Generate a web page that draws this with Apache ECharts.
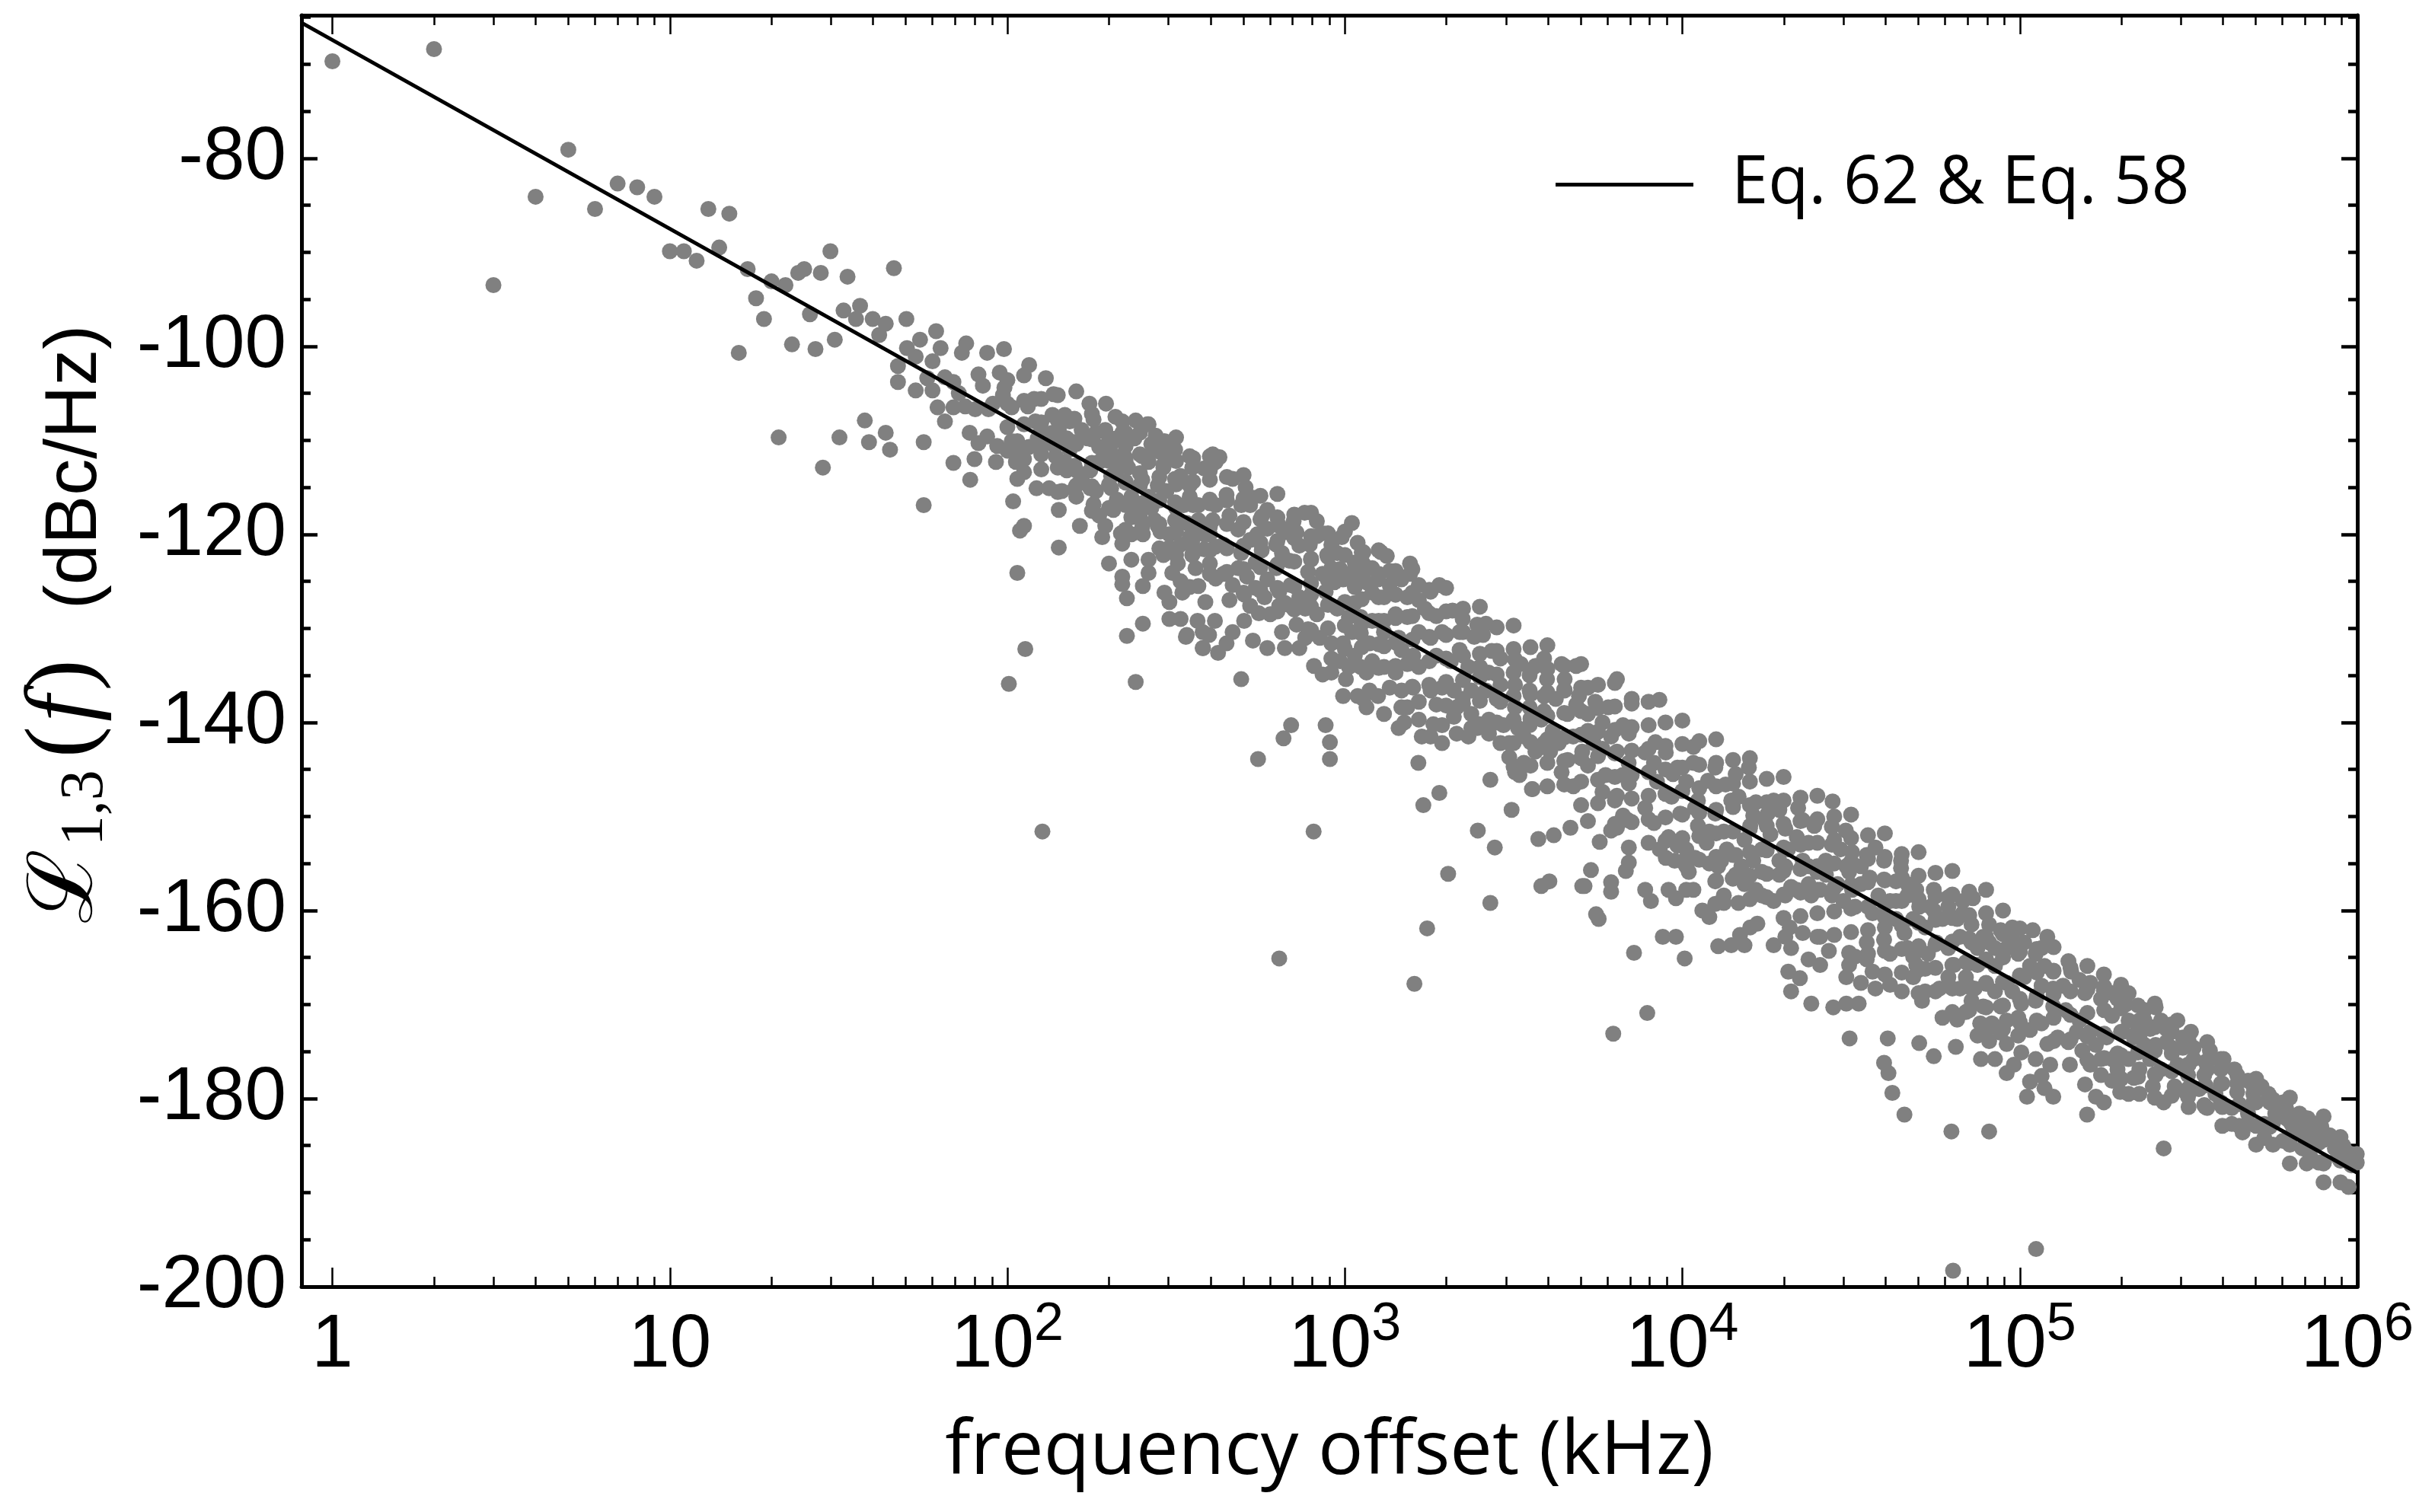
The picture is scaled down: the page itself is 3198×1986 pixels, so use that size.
<!DOCTYPE html>
<html>
<head>
<meta charset="utf-8">
<title>Phase noise L13(f)</title>
<script src="https://cdn.jsdelivr.net/npm/echarts@6.0.0/dist/echarts.min.js"></script>
<style>
  html, body { margin: 0; padding: 0; background: #fff; }
  #chart { width: 3198px; height: 1986px; }
</style>
</head>
<body>
<div id="chart"></div>
<script>
// axis ranges
var xMin = 0.81, xMax = 1e6;
var yMin = -200, yMax = -64.8;
var yStep = 20;
var decadeExp = [0, 1, 2, 3, 4, 5, 6];

var lineName = 'Eq. 62 & Eq. 58';
// straight line in log-x, two ends
var fitLine = [[0.81, -65.6], [1e6, -187.9]];

// [frequency offset kHz, dBc/Hz]
var pointsLow = [
  [1.0,-69.7],[2,-68.4],[3,-93.5],[4,-84.1],[5,-79.1],[6,-85.4],[7,-82.7],[8,-83.1],[9,-84.1],[10,-89.9],
  [11,-89.9],[12,-90.9],[13,-85.4],[14,-89.5],[15,-85.9],[16,-100.7],[17,-91.8],[18,-94.9],[19,-97.1],[20,-93.1],
  [21,-109.7],[22,-93.5],[23,-99.8],[24,-92.2],[25,-91.8],[26,-96.6],[27,-100.3],[28,-92.2],[28.4,-112.9]
];

var pointsBand100 = [
  [29.9,-89.9],[33.6,-92.6],[46.1,-91.7],[32.7,-96.2],[36.6,-95.7],[35.6,-97.1],[39.9,-97.1],[43.6,-97.6],[41.7,-98.8],[50.2,-97.1],
  [30.8,-99.3],[31.8,-109.7],[37.8,-107.9],[38.9,-110.2],[43.6,-109.2],[44.9,-111.0],[56.5,-110.2],[56.5,-116.9],[55.1,-99.3],[61.5,-98.4],
  [63.4,-100.2],[50.4,-100.2],[53.5,-101.1],[47.4,-102.1],[47.4,-103.8],[53.5,-104.7],[60.0,-101.6],[57.9,-103.4],[60,-104.7],[65.3,-103.3],
  [69.2,-103.8],[73.3,-100.7],[75.5,-99.7],[82.1,-103.0],[84.6,-104.2],[87.1,-100.7],[97.7,-100.3],[94.9,-102.8],[98.0,-104.4],[97.0,-105.2],
  [116,-102.0],[130,-103.4],[137,-105.1],[160,-104.8],[175,-106.1],[196,-106.1],[120,-105.6],[115,-106.4],[103,-106.5],[71.8,-105.0],
  [62.1,-106.5],[65.3,-108.0],[69.2,-106.5],[75.0,-106.4],[80.3,-106.7],[87.9,-106.7],[90.6,-106.1],[77.3,-109.2],[82.1,-110.3],[87.1,-109.6],
  [93.3,-110.6],[92.5,-112.3],[100,-111.0],[107,-110.1],[106,-112.3],[116,-110.7],[126,-111.5],[121,-108.0],[126,-108.9],[136,-107.3],
  [142,-108.9],[148,-107.3],[153,-108.0],[150,-109.8],[160,-110.4],[166,-108.9],[180,-107.8],[183,-109.2],[195,-108.9],[209,-107.5],
  [219,-108.0],[240,-107.9],[260,-108.3],[219,-109.2],[211,-109.8],[187,-110.7],[199,-111.4],[209,-111.7],[224,-110.6],[247,-111.5],
  [275,-109.5],[292,-110.1],[267,-110.4],[296,-111.4],[290,-112.6],[262,-112.3],[247,-113.5],[228,-112.9],[211,-113.2],[187,-112.3],
  [176,-113.2],[160,-113.2],[150,-113.2],[148,-112.3],[139,-111.7],[136,-110.4],[103,-110.1],[107,-111.5],[112,-112.0],[69.2,-112.4],
  [79.9,-112.0],[77.6,-114.2],[107,-114.1],[104,-116.5],[122,-115.1],[133,-115.1],[145,-115.4],[160,-116.0],[160,-114.8],[176,-115.1],
  [180,-116.8],[203,-115.1],[224,-114.5],[233,-116.0],[262,-116.0],[279,-114.8],[267,-117.2],[206,-117.4],[187,-118.0],[233,-118.2],
  [247,-118.2],[142,-117.4],[164,-119.1],[112,-119.1],[109,-119.6],[195,-119.1],[191,-120.3],[217,-119.9],[233,-120.0],[252,-120.0],
  [279,-119.1],[284,-119.7],[142,-121.4],[219,-121.0],[200,-123.1],[233,-122.7],[262,-122.7],[219,-124.5],[219,-125.3],[226,-126.8],
  [252,-125.5],[262,-124.1],[107,-124.1],[113,-132.2],[101,-135.9],[240,-135.7],[252,-129.5],[226,-130.8],[302,-129.0],[326,-129.0],
  [292,-126.2],[308,-124.1],[326,-125.0],[330,-126.2],[340,-130.7],[361,-123.6],[368,-125.5],[379,-130.4],[379,-132.1],[386,-127.2],
  [302,-121.4],[326,-121.1],[353,-120.7],[383,-121.6],[414,-121.3],[302,-120.0],[340,-118.8],[383,-120.0],[406,-118.5],[314,-116.6],
  [347,-116.0],[368,-116.9],[398,-116.3],[347,-114.8],[314,-114.1],[290,-112.9],[353,-112.9],[398,-113.2],[406,-111.5],[326,-113.8],
  [279,-110.1],[262,-108.3],
  [123,-109.8],[136,-109.2],[153,-111.0],[173,-109.8],[203,-110.4],[238,-109.8],[247,-109.2],[273,-111.0],[314,-111.0],[347,-111.7],
  [383,-113.0],[414,-112.3],[224,-112.3],[203,-113.8],[166,-114.1],[183,-115.4],[247,-114.8],[296,-115.4],[333,-116.9],[368,-118.5],
  [414,-116.9],[398,-120.0],[347,-120.3],[314,-118.5],[273,-118.5],[211,-116.3],[238,-117.2],[290,-122.2],[320,-123.1],[353,-122.2],
  [398,-123.1],[414,-124.7],[347,-125.6],[302,-127.2],
  [127,-151.6],[639,-165.1],[1607,-167.8],[1753,-161.9]
];

var pointsBand1k = [
  [425,-111.8],[465,-114.1],[508,-115.0],[493,-116.9],[524,-116.9],[567,-118.1],[639,-119.1],[589,-119.4],[550,-120.0],[626,-121.1],
  [705,-118.6],[760,-117.7],[826,-118.6],[859,-119.9],[733,-121.2],[787,-121.1],[794,-122.6],[886,-122.2],[912,-121.1],[979,-120.3],
  [1049,-118.8],[1091,-120.9],[1135,-121.9],[1279,-121.9],[1331,-122.3],[1560,-123.1],[1560,-124.2],[1905,-125.4],[1132,-123.1],[912,-123.6],
  [968,-123.7],[1028,-124.2],[778,-124.0],[859,-124.2],[684,-122.8],[651,-122.0],[567,-121.7],[524,-120.6],[437,-124.2],[465,-125.4],
  [513,-124.5],[483,-123.6],[544,-125.7],[589,-124.8],[639,-126.1],[691,-125.4],[733,-126.7],[794,-126.4],[877,-126.1],[931,-125.1],
  [988,-124.8],[1070,-125.6],[1159,-125.1],[1254,-124.8],[1358,-125.4],[1205,-126.2],[1070,-127.3],[1306,-126.7],[1413,-126.4],[1531,-126.7],
  [1656,-127.0],[1795,-126.1],[1726,-127.9],[1867,-128.7],[2084,-128.1],[2234,-129.0],[2467,-129.6],[2618,-129.5],[1941,-130.4],[2188,-130.4],
  [2417,-130.9],[2566,-130.7],[2723,-132.4],[2891,-133.2],[3192,-133.3],[3320,-133.8],[3893,-133.2],[3670,-134.0],[4387,-133.8],[4845,-134.0],
  [4479,-135.4],[5250,-136.3],[6030,-138.4],[6400,-135.4],[7080,-137.5],[5520,-137.8],[4940,-137.2],
  [524,-127.6],[556,-128.4],[601,-128.5],[639,-127.6],[691,-127.6],[719,-129.6],[778,-130.1],[651,-130.4],[589,-132.1],[534,-131.3],
  [446,-131.6],[380,-132.1],[338,-130.9],[421,-132.6],[664,-132.1],[733,-132.1],[843,-131.0],[912,-131.6],[988,-131.6],[1049,-130.4],
  [1115,-130.5],[1183,-131.6],[1306,-131.9],[1472,-132.3],[1593,-132.9],[810,-134.0],[859,-134.9],[912,-133.2],[968,-133.5],[1028,-134.1],
  [1007,-135.4],[1159,-134.7],[1205,-133.5],[1306,-134.1],[1413,-134.7],[1531,-133.8],[1656,-134.1],[1183,-136.6],[1254,-137.2],[1358,-136.3],
  [1472,-136.6],[1593,-136.3],[1795,-136.6],[1941,-136.3],[2103,-136.6],[2234,-137.5],[2370,-136.6],[2618,-136.6],[2891,-136.0],[3192,-136.0],
  [3527,-136.6],[3893,-137.2],[4217,-137.5],[4479,-136.6],[4845,-138.1],[5250,-139.1],[5800,-140.0],[6670,-140.3],[6940,-141.2],[6150,-141.5],
  [5460,-142.2],[5050,-143.1],[4571,-144.0],[4754,-146.8],[4387,-145.3],[4055,-143.1],[3670,-143.1],[3390,-144.3],[3192,-145.3],[3069,-143.7],
  [3597,-147.1],[3290,-145.6],[2891,-142.2],[2672,-141.2],[2467,-140.6],[2323,-141.5],[2144,-141.2],[1941,-142.2],[1795,-141.5],[1690,-141.5],
  [1941,-140.3],[2103,-139.4],[1829,-140.2],[1656,-139.7],[1531,-138.4],[1443,-140.6],[1500,-140.0],[1159,-138.4],[1135,-137.5],[1091,-137.2],
  [988,-137.2],[2370,-139.1],[2672,-139.7],[2951,-140.3],[3258,-140.6],[3527,-140.3],[3820,-139.7],[4130,-140.9],[4303,-142.2],[5920,-145.6],
  [5800,-147.4],[6400,-147.8],[6940,-146.5],[6670,-149.9],[6150,-151.5],[5690,-152.7],[5250,-150.5],[4660,-151.2],[6400,-151.2],[6940,-153.3],
  [6940,-154.9],[6800,-155.8],[5360,-155.7],[5050,-157.4],[6150,-157.0],[6150,-158.0],
  [493,-135.4],[693,-140.3],[658,-141.7],[877,-140.3],[903,-142.1],[903,-143.9],[553,-143.9],[808,-151.6],[1651,-144.3],[1905,-147.5],
  [1708,-148.8],[2698,-146.1],[3119,-149.3],[3583,-147.1],[2477,-151.5],[2781,-153.3],[3743,-152.4],[4159,-152.0],[2023,-156.1],[3820,-157.4],
  [4036,-156.9],[2698,-159.2],[5130,-157.4],[5550,-160.4],
  [446,-115.8],[534,-116.1],[455,-118.0],[589,-117.4],[664,-119.8],[483,-119.5],[437,-121.1],[493,-122.0],[544,-123.0],[626,-123.6],
  [719,-119.8],[826,-120.2],[949,-122.0],[1070,-123.0],[1205,-123.6],[1358,-123.9],[1470,-124.8],[1656,-125.4],[455,-127.0],[503,-126.4],
  [578,-126.7],[664,-127.3],[763,-127.9],[826,-128.5],[949,-127.9],[1028,-128.8],[1114,-128.8],[1205,-129.2],[1306,-129.2],[1413,-128.5],
  [1531,-128.8],[1656,-130.4],[1795,-131.0],[1306,-130.4],[1443,-131.0],[1867,-132.9],[2061,-133.5],[2188,-132.3],[2322,-134.1],[2514,-134.1],
  [2667,-134.7],[3527,-135.0],[3972,-135.4],[2891,-137.8],[3192,-138.4],[3527,-138.4],[3893,-138.8],[4564,-139.1],[5250,-140.9],[4747,-141.5],
  [3893,-142.2],[3388,-141.5],[3069,-142.2],[5800,-142.8],[6400,-143.1],[6930,-144.3],[6660,-145.6],[5250,-144.6],[2370,-140.6],[2144,-138.4],
  [1867,-138.1],[1656,-137.8],[1470,-138.4],[1306,-139.1],[1070,-132.9],[1114,-134.1],[912,-134.7],[763,-131.0],[503,-129.2],[412,-129.2],
  [366,-129.2],[465,-130.4],[396,-130.7]
];

var pointsBand10k = [
  [8550,-137.6],[8320,-142.1],[7760,-143.2],[8240,-144.3],[9380,-145.5],[10780,-142.6],[10780,-144.3],[12520,-144.8],[14390,-145.5],[15740,-144.8],
  [13430,-146.6],[11910,-146.2],[10270,-146.3],[11120,-148.3],[13960,-148.3],[14680,-147.9],[18640,-148.3],[19380,-149.3],[22030,-149.1],[27870,-148.4],
  [22730,-150.4],[24600,-151.0],[27730,-151.1],[30500,-151.5],[20190,-151.3],[18240,-151.9],[16220,-149.9],[15890,-151.0],[17540,-150.4],[21830,-152.2],
  [23650,-152.8],[27730,-153.0],[29430,-153.5],[31840,-153.8],[37330,-153.3],[35180,-154.1],[39600,-154.7],[44460,-154.7],[44460,-155.5],[33820,-155.3],
  [31200,-155.9],[26600,-154.7],[25100,-155.9],[35900,-156.5],[39600,-156.7],[42950,-156.9],[46450,-157.2],[49320,-157.8],[55580,-157.8],[61400,-158.6],
  [67750,-159.0],[72600,-158.7],[61400,-159.6],[67750,-160.3],[50330,-159.6],[55580,-160.0],[48300,-160.9],[42950,-160.9],[39600,-160.6],[36600,-160.3],
  [32500,-159.6],[30000,-159.0],[27730,-158.4],[25600,-157.8],[23650,-157.2],[21830,-157.8],[20190,-158.4],[18640,-159.0],[17200,-158.4],[16500,-157.8],
  [15280,-157.2],[14100,-156.6],[12770,-155.3],[12020,-155.0],[10900,-154.4],[10270,-153.5],[9670,-153.1],[9100,-152.2],[8570,-153.5],[8930,-154.4],
  [10270,-155.3],[9490,-154.7],[10450,-155.9],[13030,-154.7],[14390,-154.1],[14960,-155.3],[16220,-154.7],[17200,-155.9],[19380,-156.2],[21000,-157.5],
  [24100,-158.4],[12520,-156.9],[14390,-156.2],[14660,-159.2],[13270,-159.2],[11460,-160.0],[12020,-160.7],[12770,-163.8],[13960,-163.7],[15280,-163.7],
  [14820,-162.6],[15890,-161.8],[16680,-161.4],[18640,-163.7],[20800,-161.8],[20190,-162.8],[21000,-164.0],[22730,-162.4],[25600,-162.8],[23650,-165.2],
  [25600,-165.8],[27170,-164.3],[31200,-164.5],[32500,-164.9],[35180,-165.2],[31200,-165.8],[36600,-166.5],[30600,-167.1],[33820,-167.7],[37330,-168.3],
  [41250,-167.9],[44700,-168.6],[48300,-167.1],[49320,-165.8],[48300,-164.9],[52400,-166.2],[56600,-163.4],[61400,-164.0],[63800,-165.8],[61400,-167.1],
  [57800,-168.3],[52400,-168.6],[51300,-169.6],[59000,-171.4],[65200,-171.6],[69200,-167.1],[73400,-168.3],[79400,-167.7],[69200,-165.5],[74900,-164.0],
  [81100,-163.4],[81100,-161.5],[87700,-162.1],[95000,-161.8],[91400,-164.0],[98900,-164.6],[95000,-163.1],[84400,-165.9],[91400,-167.7],[103000,-167.1],
  [107200,-165.9],[116000,-164.0],[118300,-165.9],[125600,-168.3],[111400,-169.6],[101000,-169.9],[87700,-170.2],[82600,-172.0],[76300,-172.0],[91400,-174.2],
  [101000,-175.1],[111400,-175.8],[96000,-176.4],[120600,-174.2],[107200,-178.2],[116000,-177.6],[105000,-179.8],[125600,-179.8],
  [7190,-164.5],[7870,-170.9],[6240,-173.1],[31300,-173.6],[40600,-173.6],[39600,-176.2],[40800,-177.3],[41900,-179.4],[45500,-181.7],[62700,-183.5],
  [81100,-183.5],[50330,-174.1],[55580,-175.5],[64600,-174.5],[76700,-175.8],[24100,-169.9],[28000,-170.3],[30600,-169.9],[33300,-169.9],[21000,-168.6],
  [22300,-167.2],[20600,-166.5],[5650,-160.9],[7760,-157.8],[8070,-159.0],[9100,-157.8],[9570,-158.7],[10270,-157.8],[10780,-157.8],[12520,-159.3],
  [13270,-158.4],[8750,-162.8],[9570,-162.8],[10160,-165.1],
  [8930,-143.2],[9670,-144.8],[8410,-146.3],[9290,-147.9],[7760,-149.1],[6900,-150.4],[8240,-150.7],[9860,-149.7],[11120,-151.0],[12520,-149.7],
  [13270,-151.6],[11800,-152.8],[10900,-149.1],[16520,-148.5],[17900,-149.7],[20560,-153.5],[22730,-154.7],[19380,-154.7],[17200,-153.5],[15280,-152.5],
  [13550,-153.5],[12020,-151.6],[30600,-155.3],[33820,-157.2],[38100,-158.4],[42950,-159.0],[46450,-158.4],[41250,-159.0],[28840,-157.2],[26630,-156.2],
  [31840,-157.8],[23650,-155.3],[20190,-155.3],[54400,-159.6],[59000,-160.9],[52400,-161.8],[45500,-162.4],[39600,-163.1],[35180,-163.4],[41250,-164.6],
  [46450,-164.0],[53400,-164.6],
  [65200,-160.9],[71900,-161.5],[77900,-162.8],[84400,-164.0],[66500,-162.8],[71900,-163.4],[74900,-165.8],[79400,-165.2],[66500,-168.3],[71900,-169.6],
  [77900,-170.2],[84400,-168.6],[95000,-168.6],[98900,-171.4],[91400,-171.7],[107200,-172.7],[116000,-172.0],[125600,-170.2],[116000,-168.0],[125600,-166.5],
  [120600,-162.8],[109200,-162.1],[103000,-163.4],[111400,-164.6],[69200,-170.8],[74900,-173.3],[81100,-173.9],[87700,-173.0],[98900,-173.3],[123000,-176.4],
  [118300,-178.9],[91400,-177.3],[84400,-175.8]
];

var pointsBand100k = [
  [139300,-165.4],[177400,-166.8],[177400,-168.5],[187600,-168.8],[206000,-170.0],[252500,-170.3],[234300,-171.7],[271800,-172.6],[282000,-172.9],[304000,-173.5],
  [327300,-174.6],[365700,-174.9],[394300,-175.8],[432500,-176.9],[474300,-178.1],[544900,-179.5],[614800,-181.0],[713000,-182.1],[782000,-183.0],[858000,-184.7],
  [960000,-185.9],[942000,-189.4],[726000,-186.2],[796000,-186.8],[602000,-184.5],[530000,-184.2],[457000,-183.6],[424600,-182.7],[359000,-181.0],[315000,-179.8],
  [266800,-180.4],[266800,-185.3],[247700,-178.7],[210000,-179.5],[177400,-180.4],[187600,-178.1],[174000,-177.5],[161700,-176.4],[153100,-174.9],[139300,-174.0],
  [129500,-173.5],[156000,-178.5],[140700,-176.4],[158200,-181.7],[226000,-176.9],[210000,-175.8],[187600,-175.8],[168000,-174.3],[150300,-171.7],[136800,-170.6],
  [134300,-168.0],[156000,-168.8],[210000,-171.7],[226000,-173.5],[252500,-174.3],[282000,-175.2],[315000,-176.4],[352000,-177.5],[394300,-178.4],[440500,-179.3],
  [492000,-180.4],[571300,-181.6],[638000,-182.7],[700000,-183.9],[769000,-184.7],[875000,-186.2],[960000,-187.1],[365700,-175.8],[440500,-177.5],[520000,-178.7],
  [602000,-180.4],[674000,-181.6],[754000,-182.7],[828000,-183.9],[891000,-185.0],[315000,-177.5],[352000,-180.7],[687500,-185.3],[769000,-186.8],[394300,-180.4],
  [474300,-181.6],[530000,-182.7],
  [142000,-166.5],[150300,-167.4],[161700,-167.7],[174000,-169.4],[194700,-169.4],[187600,-171.2],[202000,-172.9],[180800,-173.5],[161700,-172.9],[147500,-172.9],
  [174000,-175.8],[194700,-176.9],[217600,-177.8],[243200,-175.8],[261900,-176.9],[234300,-174.3],[271800,-174.0],[304000,-174.6],[293000,-176.4],[261900,-171.7],
  [226000,-171.7],[243200,-172.6],[194700,-175.2],[217600,-173.5],[327300,-175.8],[359000,-176.9],[394300,-176.9],[440500,-178.4],[492000,-179.5],[550400,-180.4],
  [614800,-181.6],[687500,-183.0],[754600,-183.9],[858000,-185.3],[925000,-185.6],[401500,-175.8],[492000,-178.7],[550400,-179.8],[614800,-182.1],[687500,-182.1],
  [726000,-183.3],[908000,-185.0],[996000,-185.9],[996000,-186.8],[339600,-179.0],[379700,-179.5],[424600,-181.0],[474300,-182.7],[550400,-183.0],[638000,-183.9],
  [726000,-184.5],[210000,-168.8],[234300,-170.6],[293000,-171.7],[321300,-172.9],[359000,-174.0],[287600,-178.7],[309700,-179.3],[198300,-179.3],[168000,-179.8],
  [226000,-179.5],[252500,-177.5],
  [111700,-196.0],[63400,-198.3]
];

// the solid core of the band, read column by column across the picture
var pointsCore = [
  [100,-103.6],[100,-106.1],[100,-108.6],[100,-111.1],
  [112,-103.1],[112,-105.8],[112,-108.3],[112,-110.8],[112,-113.4],
  [126,-105.6],[126,-108.1],[126,-110.6],[126,-113.1],
  [141,-105.2],[141,-107.9],[141,-110.4],[141,-112.9],[141,-115.5],
  [158,-107.7],[158,-110.2],[158,-112.7],[158,-115.2],
  [178,-107.2],[178,-109.9],[178,-112.4],[178,-114.9],[178,-117.5],
  [200,-109.7],[200,-112.2],[200,-114.7],[200,-117.2],
  [224,-109.2],[224,-111.9],[224,-114.4],[224,-116.9],[224,-119.5],
  [251,-111.7],[251,-114.2],[251,-116.7],[251,-119.2],
  [282,-111.2],[282,-113.9],[282,-116.4],[282,-118.9],[282,-121.5],
  [316,-109.7],[316,-112.2],[316,-114.7],[316,-117.2],[316,-119.7],[316,-122.2],
  [355,-111.9],[355,-114.4],[355,-116.9],[355,-119.5],[355,-122.0],
  [398,-111.7],[398,-114.2],[398,-116.7],[398,-119.2],[398,-121.7],[398,-124.2],
  [447,-113.9],[447,-116.4],[447,-118.9],[447,-121.5],[447,-124.0],
  [501,-113.7],[501,-116.2],[501,-118.7],[501,-121.2],[501,-123.7],[501,-126.2],
  [562,-115.9],[562,-118.4],[562,-120.9],[562,-123.5],[562,-126.0],
  [631,-115.7],[631,-118.2],[631,-120.7],[631,-123.2],[631,-125.7],[631,-128.2],
  [708,-117.9],[708,-120.4],[708,-122.9],[708,-125.5],[708,-128.0],
  [794,-117.7],[794,-120.2],[794,-122.7],[794,-125.2],[794,-127.7],[794,-130.2],
  [891,-119.9],[891,-122.4],[891,-124.9],[891,-127.5],[891,-130.0],
  [1000,-119.7],[1000,-122.2],[1000,-124.7],[1000,-127.2],[1000,-129.7],[1000,-132.2],
  [1122,-121.9],[1122,-124.4],[1122,-126.9],[1122,-129.5],[1122,-132.0],
  [1259,-121.7],[1259,-124.2],[1259,-126.7],[1259,-129.2],[1259,-131.7],[1259,-134.2],
  [1413,-123.9],[1413,-126.4],[1413,-128.9],[1413,-131.5],[1413,-134.0],
  [1585,-123.7],[1585,-126.2],[1585,-128.7],[1585,-131.2],[1585,-133.7],[1585,-136.2],
  [1778,-125.9],[1778,-128.4],[1778,-130.9],[1778,-133.5],[1778,-136.0],
  [1995,-125.7],[1995,-128.2],[1995,-130.7],[1995,-133.2],[1995,-135.7],[1995,-138.2],
  [2239,-127.9],[2239,-130.4],[2239,-132.9],[2239,-135.5],[2239,-138.0],
  [2512,-127.7],[2512,-130.2],[2512,-132.7],[2512,-135.2],[2512,-137.7],[2512,-140.2],
  [2818,-129.9],[2818,-132.4],[2818,-134.9],[2818,-137.5],[2818,-140.0],
  [3162,-129.7],[3162,-132.2],[3162,-134.7],[3162,-137.2],[3162,-139.7],[3162,-142.2],[3162,-144.7],
  [3548,-132.0],[3548,-134.5],[3548,-137.0],[3548,-139.6],[3548,-142.1],[3548,-144.6],
  [3981,-131.8],[3981,-134.3],[3981,-136.8],[3981,-139.3],[3981,-141.8],[3981,-144.3],[3981,-146.8],
  [4467,-134.0],[4467,-136.5],[4467,-139.0],[4467,-141.6],[4467,-144.1],[4467,-146.6],
  [5012,-133.8],[5012,-136.3],[5012,-138.8],[5012,-141.3],[5012,-143.8],[5012,-146.3],[5012,-148.8],
  [5623,-136.0],[5623,-138.5],[5623,-141.0],[5623,-143.6],[5623,-146.1],[5623,-148.6],
  [6310,-135.8],[6310,-138.3],[6310,-140.8],[6310,-143.3],[6310,-145.8],[6310,-148.3],[6310,-150.8],
  [7079,-138.0],[7079,-140.5],[7079,-143.0],[7079,-145.6],[7079,-148.1],[7079,-150.6],
  [7943,-137.8],[7943,-140.3],[7943,-142.8],[7943,-145.3],[7943,-147.8],[7943,-150.3],[7943,-152.8],
  [8913,-140.0],[8913,-142.5],[8913,-145.0],[8913,-147.6],[8913,-150.1],[8913,-152.6],
  [10000,-139.8],[10000,-142.3],[10000,-144.8],[10000,-147.3],[10000,-149.8],[10000,-152.3],[10000,-154.8],
  [11220,-142.0],[11220,-144.5],[11220,-147.0],[11220,-149.6],[11220,-152.1],[11220,-154.6],
  [12590,-141.8],[12590,-144.3],[12590,-146.8],[12590,-149.3],[12590,-151.8],[12590,-154.3],[12590,-156.8],
  [14130,-144.0],[14130,-146.5],[14130,-149.0],[14130,-151.6],[14130,-154.1],[14130,-156.6],
  [15850,-143.8],[15850,-146.3],[15850,-148.8],[15850,-151.3],[15850,-153.8],[15850,-156.3],[15850,-158.8],
  [17780,-146.0],[17780,-148.5],[17780,-151.0],[17780,-153.6],[17780,-156.1],[17780,-158.6],
  [19950,-145.8],[19950,-148.3],[19950,-150.8],[19950,-153.3],[19950,-155.8],[19950,-158.3],[19950,-160.8],
  [22390,-148.0],[22390,-150.5],[22390,-153.0],[22390,-155.6],[22390,-158.1],[22390,-160.6],
  [25120,-147.8],[25120,-150.3],[25120,-152.8],[25120,-155.3],[25120,-157.8],[25120,-160.3],[25120,-162.8],
  [28180,-150.0],[28180,-152.5],[28180,-155.0],[28180,-157.6],[28180,-160.1],[28180,-162.6],
  [31620,-149.8],[31620,-152.3],[31620,-154.8],[31620,-157.3],[31620,-159.8],[31620,-162.3],[31620,-164.8],
  [35480,-152.0],[35480,-154.5],[35480,-157.0],[35480,-159.6],[35480,-162.1],[35480,-164.6],
  [39810,-151.8],[39810,-154.3],[39810,-156.8],[39810,-159.3],[39810,-161.8],[39810,-164.3],[39810,-166.8],
  [44670,-154.0],[44670,-156.5],[44670,-159.0],[44670,-161.6],[44670,-164.1],[44670,-166.6],
  [50120,-153.8],[50120,-156.3],[50120,-158.8],[50120,-161.3],[50120,-163.8],[50120,-166.3],[50120,-168.8],
  [56230,-156.0],[56230,-158.5],[56230,-161.0],[56230,-163.6],[56230,-166.1],[56230,-168.6],
  [63100,-155.8],[63100,-158.3],[63100,-160.8],[63100,-163.3],[63100,-165.8],[63100,-168.3],[63100,-170.8],
  [70790,-158.0],[70790,-160.5],[70790,-163.0],[70790,-165.6],[70790,-168.1],[70790,-170.6],
  [79430,-157.8],[79430,-160.3],[79430,-162.8],[79430,-165.3],[79430,-167.8],[79430,-170.3],[79430,-172.8],
  [89130,-160.0],[89130,-162.5],[89130,-165.0],[89130,-167.6],[89130,-170.1],[89130,-172.6],
  [100000,-161.9],[100000,-164.4],[100000,-166.9],[100000,-169.4],[100000,-171.9],
  [112200,-164.1],[112200,-166.6],[112200,-169.1],[112200,-171.7],
  [125900,-163.9],[125900,-166.4],[125900,-168.9],[125900,-171.4],[125900,-173.9],
  [141300,-166.1],[141300,-168.6],[141300,-171.1],[141300,-173.7],
  [158500,-165.9],[158500,-168.4],[158500,-170.9],[158500,-173.4],[158500,-175.9],
  [177800,-168.1],[177800,-170.6],[177800,-173.1],[177800,-175.7],
  [199500,-167.9],[199500,-170.4],[199500,-172.9],[199500,-175.4],[199500,-177.9],
  [223900,-170.1],[223900,-172.6],[223900,-175.1],[223900,-177.7],
  [251200,-169.9],[251200,-172.4],[251200,-174.9],[251200,-177.4],[251200,-179.9],
  [281800,-172.1],[281800,-174.6],[281800,-177.1],[281800,-179.7],
  [316200,-173.9],[316200,-176.4],[316200,-178.9],[316200,-180.9],
  [354800,-176.1],[354800,-178.6],[354800,-180.9],
  [398100,-175.9],[398100,-178.4],[398100,-180.9],[398100,-182.9],
  [446700,-178.1],[446700,-180.6],[446700,-182.9],
  [501200,-177.9],[501200,-180.4],[501200,-182.9],[501200,-184.9],
  [562300,-180.1],[562300,-182.6],[562300,-184.9],
  [631000,-179.9],[631000,-182.4],[631000,-184.9],[631000,-186.9],
  [707900,-182.1],[707900,-184.6],[707900,-186.9],
  [794300,-181.9],[794300,-184.4],[794300,-186.9],[794300,-188.9],
  [891300,-184.1],[891300,-186.6],[891300,-188.9]
];

var scatterData = [].concat(pointsLow, pointsBand100, pointsBand1k, pointsBand10k, pointsBand100k, pointsCore);

// minor tick positions in log10 space (2..9 in every decade)
var minorTickExp = [];
for (var d = 0; d < 6; d++) {
  for (var k = 2; k <= 9; k++) {
    minorTickExp.push(d + Math.log10(k));
  }
}

var chart = echarts.init(document.getElementById('chart'), null, { renderer: 'canvas' });

var black = '#000';
var logMin = Math.log10(xMin), logMax = Math.log10(xMax);

function tickAxis(position, values, len, width, withLine, withLabels) {
  return {
    type: 'value',
    gridIndex: 0,
    position: position,
    min: logMin,
    max: logMax,
    axisLine: { show: withLine, onZero: false, lineStyle: { color: black, width: 5 } },
    axisTick: { show: true, inside: true, length: len, customValues: values, lineStyle: { color: black, width: width } },
    axisLabel: withLabels ? {
      show: true,
      customValues: values,
      margin: 16,
      color: black,
      formatter: function (v) {
        var e = Math.round(v);
        if (e === 0) return '{p|1}';
        if (e === 1) return '{p|10}';
        return '{b|10}{s|' + e + '}';
      },
      rich: {
        p: { fontFamily: 'Liberation Sans', fontSize: 98, color: black, padding: [13, 0, 0, 0], verticalAlign: 'bottom' },
        b: { fontFamily: 'Liberation Sans', fontSize: 98, color: black, verticalAlign: 'bottom' },
        s: { fontFamily: 'Liberation Sans', fontSize: 70, color: black, padding: [0, 0, 41, 0], verticalAlign: 'bottom' }
      }
    } : { show: false },
    splitLine: { show: false },
    minorTick: { show: false },
    silent: true
  };
}

function yAxisSide(position, withLabels) {
  return {
    type: 'value',
    position: position,
    min: yMin,
    max: yMax,
    interval: yStep,
    axisLine: { show: true, onZero: false, lineStyle: { color: black, width: 5 } },
    axisTick: { show: true, inside: true, length: 21, lineStyle: { color: black, width: 4.5 } },
    minorTick: { show: true, splitNumber: 4, length: 12, lineStyle: { color: black, width: 4.5 } },
    axisLabel: {
      show: withLabels,
      showMaxLabel: false,
      margin: 20,
      fontFamily: 'Liberation Sans',
      fontSize: 98,
      color: black
    },
    splitLine: { show: false }
  };
}

var option = {
  animation: false,
  backgroundColor: '#fff',
  textStyle: { fontFamily: 'Liberation Sans' },
  grid: { left: 396, right: 102, top: 20, bottom: 296, outerBoundsMode: 'none' },
  legend: {
    data: [lineName],
    left: 2043,
    top: 199,
    padding: 0,
    icon: 'rect',
    itemWidth: 181,
    itemHeight: 5,
    textStyle: { fontFamily: 'Open Sans', fontSize: 87, color: black, padding: [0, 0, 0, 45] }
  },
  xAxis: [
    {
      type: 'log',
      logBase: 10,
      position: 'bottom',
      min: xMin,
      max: xMax,
      name: 'frequency offset (kHz)',
      nameLocation: 'middle',
      nameGap: 168,
      nameTextStyle: { fontFamily: 'Open Sans', fontSize: 99, color: black },
      axisLine: { show: true, onZero: false, lineStyle: { color: black, width: 5 } },
      axisTick: { show: false },
      axisLabel: { show: false },
      splitLine: { show: false },
      minorTick: { show: false }
    },
    tickAxis('bottom', decadeExp, 25, 2.5, false, true),
    tickAxis('bottom', minorTickExp, 13, 2.5, false, false),
    tickAxis('top', decadeExp, 25, 2.5, true, false),
    tickAxis('top', minorTickExp, 13, 2.5, false, false)
  ],
  yAxis: [
    Object.assign(yAxisSide('left', true), {
      name: '{L|ℒ}{s|1,3}{p|(}{f|f}{p|)}{u|(dBc/Hz)}',
      nameLocation: 'middle',
      nameRotate: 90,
      nameGap: 248,
      nameTextStyle: {
        padding: [0, 0, 0, 70],
        rich: {
          L: { fontFamily: 'DejaVu Serif', fontSize: 118, color: black, verticalAlign: 'bottom' },
          s: { fontFamily: 'Liberation Serif', fontSize: 80, height: 70, color: black, verticalAlign: 'bottom', padding: [0, 16, 0, 4] },
          p: { fontFamily: 'Liberation Serif', fontSize: 124, color: black, verticalAlign: 'bottom' },
          f: { fontFamily: 'Liberation Serif', fontStyle: 'italic', fontSize: 124, color: black, verticalAlign: 'bottom', padding: [0, 6, 0, 6] },
          u: { fontFamily: 'Liberation Sans', fontSize: 96, color: black, verticalAlign: 'bottom', padding: [0, 0, 0, 66] }
        }
      }
    }),
    yAxisSide('right', false)
  ],
  series: [
    {
      name: 'data',
      type: 'scatter',
      xAxisIndex: 0,
      yAxisIndex: 0,
      symbol: 'circle',
      symbolSize: 21,
      itemStyle: { color: '#808080', opacity: 1 },
      data: scatterData,
      z: 2
    },
    {
      name: lineName,
      type: 'line',
      xAxisIndex: 0,
      yAxisIndex: 0,
      symbol: 'none',
      color: black,
      lineStyle: { color: black, width: 5 },
      data: fitLine,
      z: 3
    }
  ]
};

chart.setOption(option);
</script>
</body>
</html>
